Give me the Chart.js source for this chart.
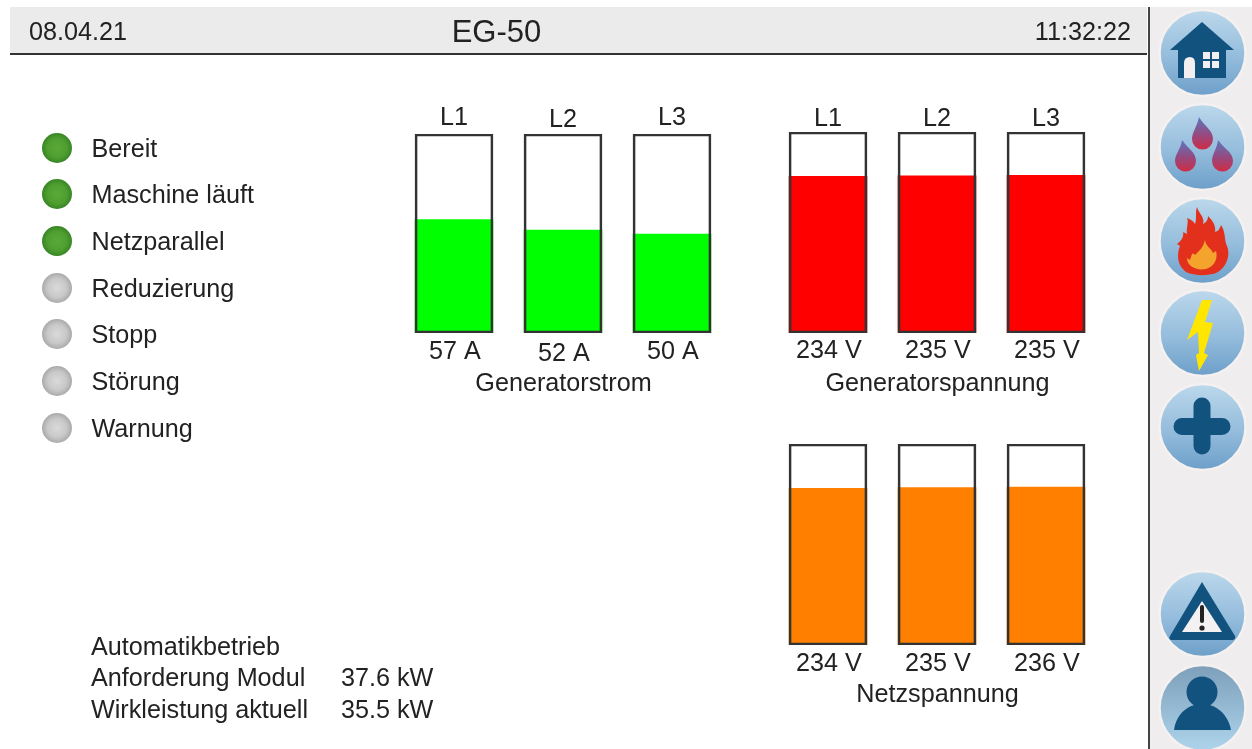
<!DOCTYPE html>
<html>
<head>
<meta charset="utf-8">
<title>EG-50</title>
<script src="https://cdn.jsdelivr.net/npm/chart.js@4"></script>
<style>
  html, body { margin: 0; padding: 0; background: #fff; }
  body { width: 1252px; height: 749px; position: relative; overflow: hidden;
         font-family: "Liberation Sans", Arial, sans-serif; color: #222; }
  body > * { filter: blur(0.4px); }
  .abs { position: absolute; white-space: nowrap; line-height: 30px; font-size: 25.2px; }
  #topbar { position: absolute; left: 10px; top: 7px; width: 1137px; height: 46px; background: #ecebeb; border-bottom: 2px solid #333; }
  #sidebar { position: absolute; left: 1148px; top: 7px; width: 102px; height: 742px; background: #efeded; border-left: 2px solid #444; }
  .lamp { position: absolute; left: 42px; width: 30px; height: 30px; border-radius: 50%; }
  .lamp.on { background: radial-gradient(circle, #5aa838 0%, #4f9f30 45%, #2e7c22 80%, #5f9558 93%, #d5e0d3 100%); }
  .lamp.off { background: radial-gradient(circle, #dadada 0%, #c8c8c8 45%, #9c9c9c 82%, #aaaaaa 93%, #e2e2e2 100%); }
  canvas { position: absolute; }
  svg { position: absolute; left: 0; top: 0; }
</style>
</head>
<body>
<div id="topbar"></div>
<div id="sidebar"></div>
<div class="abs" style="left:29px;top:16px">08.04.21</div>
<div class="abs" style="left:396.5px;width:200px;text-align:center;top:17px;font-size:31px">EG-50</div>
<div class="abs" style="right:121px;top:16px">11:32:22</div>

<div id="status"></div>

<div class="abs" style="left:91px;top:631px;">Automatikbetrieb</div>
<div class="abs" style="left:91px;top:662px;">Anforderung Modul</div>
<div class="abs" style="left:341px;top:662px;">37.6 kW</div>
<div class="abs" style="left:91px;top:694px;">Wirkleistung aktuell</div>
<div class="abs" style="left:341px;top:694px;">35.5 kW</div>

<canvas id="stromChart" width="328" height="310" style="left:399px;top:90px"></canvas>
<canvas id="genChart" width="328" height="310" style="left:773px;top:90px"></canvas>
<canvas id="netzChart" width="328" height="310" style="left:773px;top:400px"></canvas>

<svg width="1252" height="749" xmlns="http://www.w3.org/2000/svg">
  <defs>
    <linearGradient id="btn" x1="0" y1="0" x2="0" y2="1">
      <stop offset="0" stop-color="#bcd8ec"/><stop offset="0.55" stop-color="#94bcdc"/><stop offset="1" stop-color="#6d9fc9"/>
    </linearGradient>
    <linearGradient id="btnUser" x1="0" y1="0" x2="0" y2="1">
      <stop offset="0" stop-color="#7d9fba"/><stop offset="1" stop-color="#aed4ec"/>
    </linearGradient>
    <linearGradient id="drop" x1="0" y1="0" x2="0" y2="1">
      <stop offset="0" stop-color="#5c78bd"/><stop offset="0.55" stop-color="#96497f"/><stop offset="1" stop-color="#cf2c45"/>
    </linearGradient>
  </defs>
  <g stroke="#f4f1f0" stroke-width="2.5">
    <circle cx="1202.5" cy="53" r="43" fill="url(#btn)"/>
    <circle cx="1202.5" cy="147" r="43" fill="url(#btn)"/>
    <circle cx="1202.5" cy="241" r="43" fill="url(#btn)"/>
    <circle cx="1202.5" cy="333" r="43" fill="url(#btn)"/>
    <circle cx="1202.5" cy="427" r="43" fill="url(#btn)"/>
    <circle cx="1202.5" cy="614" r="43" fill="url(#btn)"/>
    <circle cx="1202.5" cy="708" r="43" fill="url(#btnUser)"/>
  </g>
  <!-- Haus -->
  <path d="M1202 22 L1234 50 L1226 50 L1226 78 L1178 78 L1178 50 L1170 50 Z" fill="#11527f"/>
  <path d="M1184 78 L1184 63 Q1184 57 1190 57 Q1195 57 1195 63 L1195 78 Z" fill="#f1efef"/>
  <rect x="1203" y="52" width="16" height="16" fill="#f1efef"/>
  <path d="M1211 52 V68 M1203 60 H1219" stroke="#11527f" stroke-width="2"/>
  <!-- Tropfen -->
  <path d="M1199 117 C1197 127 1192 132 1192 139 A10.5 10.5 0 0 0 1213 139 C1213 130 1205 127 1199 117 Z" fill="url(#drop)"/>
  <path d="M1182 140 C1181 149 1175 154 1175 161 A10.5 10.5 0 0 0 1196 161 C1196 152 1188 149 1182 140 Z" fill="url(#drop)"/>
  <path d="M1218 140 C1217 149 1212 154 1212 161 A10.5 10.5 0 0 0 1233 161 C1233 152 1224 149 1218 140 Z" fill="url(#drop)"/>
  <!-- Flamme -->
  <path d="M1197 207 C1199 214 1205 217 1203 224 C1207 222 1208 219 1208 216 C1213 221 1216 226 1215 232 C1219 231 1220 228 1221 225 C1226 232 1224 240 1227 246 C1231 256 1226 268 1216 273 C1208 276 1194 276 1186 272 C1178 266 1176 256 1180 246 L1177 244 C1182 241 1184 236 1183 232 L1187 234 C1186 228 1189 222 1187 218 C1192 220 1194 222 1195 224 C1197 218 1195 212 1197 207 Z" fill="#e2301d"/>
  <path d="M1205 240 C1206 247 1211 248 1213 253 L1216 251 C1218 258 1215 266 1206 269 C1196 271 1187 266 1187 258 L1190 260 C1192 254 1192 252 1195 255 C1199 251 1203 248 1205 240 Z" fill="#f4a32d"/>
  <!-- Blitz -->
  <path d="M1202 300 L1212 300 L1205 322 L1213 323 L1204 353 L1208 355 L1199 371 L1196 355 L1199 353 L1198 332 L1187 340 Z" fill="#ffe600"/>
  <!-- Plus -->
  <path d="M1202 406 V446 M1182 426.5 H1222" stroke="#11527f" stroke-width="17" stroke-linecap="round"/>
  <!-- Warnung -->
  <path d="M1202 582 L1235 636 Q1236 640 1232 640 L1172 640 Q1168 640 1170 636 Z" fill="#11527f"/>
  <path d="M1202 601 L1222 632 L1182 632 Z" fill="#f3f1f1"/>
  <path d="M1202 607 V621" stroke="#222" stroke-width="4" stroke-linecap="round"/>
  <circle cx="1202" cy="628" r="2.6" fill="#222"/>
  <!-- Benutzer -->
  <circle cx="1202" cy="692" r="15.5" fill="#11527f"/>
  <path d="M1174 730 C1176 714 1188 704 1202 704 C1216 704 1228 714 1231 730 Z" fill="#11527f"/>
</svg>

<script>
// Betriebszustaende links
const statusLabels = ["Bereit", "Maschine läuft", "Netzparallel", "Reduzierung", "Stopp", "Störung", "Warnung"];
const statusActive = [true, true, true, false, false, false, false];

// Balkendaten
const phases = ["L1", "L2", "L3"];
const stromValues = [57, 51.7, 49.7];
const genValues = [233.8, 234.5, 235.4];
const netzValues = [233.8, 235, 235.6];
const stromMax = 100;
const spannungMax = 300;

// Statusliste aufbauen
const statusRowTops = [148, 194, 241, 288, 334, 381, 428];
const statusBox = document.getElementById("status");
statusLabels.forEach(function (label, i) {
  const lamp = document.createElement("div");
  lamp.className = "lamp " + (statusActive[i] ? "on" : "off");
  lamp.style.top = statusRowTops[i] - 15 + "px";
  statusBox.appendChild(lamp);
  const text = document.createElement("div");
  text.className = "abs";
  text.style.left = "91.5px";
  text.style.top = statusRowTops[i] - 15 + "px";
  text.textContent = label;
  statusBox.appendChild(text);
});

// Beschriftung ueber und unter den Balken
const barTextPlugin = {
  id: "barText",
  afterDraw: function (chart, args, opts) {
    const ctx = chart.ctx;
    const x = chart.scales.x;
    const area = chart.chartArea;
    ctx.save();
    ctx.fillStyle = "#222";
    ctx.textAlign = "center";
    ctx.textBaseline = "middle";
    ctx.font = '25.2px "Liberation Sans", Arial, sans-serif';
    phases.forEach(function (phase, i) {
      const shift = opts.shift[i];
      const px = x.getPixelForValue(i);
      // Netzspannung hat keine Phasenbeschriftung oben
      if (opts.phaseGap) {
        ctx.fillText(phase, px, area.top - opts.phaseGap + shift);
      }
      ctx.fillText(Math.round(opts.values[i]) + " " + opts.unit, px + 1, area.bottom + opts.valueGap + shift);
    });
    ctx.fillText(opts.title, x.getPixelForValue(1) + 0.5, area.bottom + opts.titleGap);
    ctx.restore();
  },
};

function barChart(id, values, max, unit, color, title, padding, text) {
  return new Chart(document.getElementById(id).getContext("2d"), {
    type: "bar",
    data: {
      labels: phases,
      datasets: [
        {
          // Rahmen liegt ueber der Fuellung
          data: phases.map(() => max),
          backgroundColor: "rgba(0,0,0,0)",
          borderColor: "#333",
          borderWidth: 2,
          borderSkipped: false,
          order: 1,
        },
        {
          data: values,
          backgroundColor: color,
          order: 2,
        },
      ],
    },
    options: {
      responsive: false,
      animation: false,
      layout: { padding: Object.assign({ left: 0.5, right: 0.5 }, padding) },
      datasets: { bar: { grouped: false, barThickness: 78 } },
      scales: {
        x: { display: false },
        y: { display: false, min: 0, max: max },
      },
      plugins: {
        legend: { display: false },
        tooltip: { enabled: false },
        barText: Object.assign({ values: values, unit: unit, title: title }, text),
      },
    },
    plugins: [barTextPlugin],
  });
}

barChart("stromChart", stromValues, stromMax, "A", "#00ff00", "Generatorstrom", { top: 44, bottom: 67 },
  { phaseGap: 16, valueGap: 19, titleGap: 51, shift: [0, 2, 0] });
barChart("genChart", genValues, spannungMax, "V", "#ff0000", "Generatorspannung", { top: 42, bottom: 67 },
  { phaseGap: 13, valueGap: 18, titleGap: 51, shift: [0, 0, 0] });
barChart("netzChart", netzValues, spannungMax, "V", "#ff8000", "Netzspannung", { top: 44, bottom: 65 },
  { phaseGap: 0, valueGap: 19, titleGap: 50, shift: [0, 0, 0] });
</script>
</body>
</html>
